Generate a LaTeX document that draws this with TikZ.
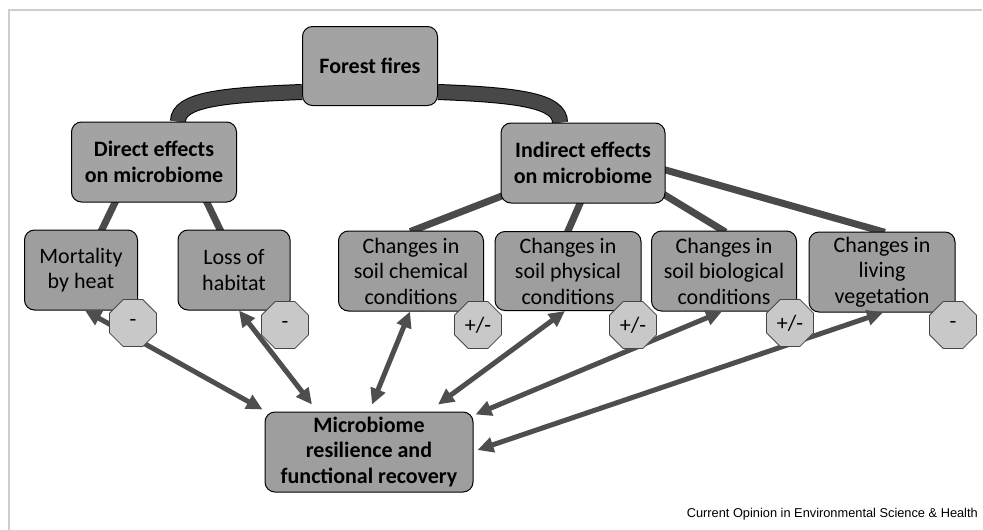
\documentclass[tikz,border=0pt]{standalone}
\usepackage{fontspec}
\setmainfont{Carlito}
\newfontfamily\creditfont{Liberation Sans}
\usetikzlibrary{arrows.meta, shapes.geometric, backgrounds}

\definecolor{boxgray}{RGB}{158,158,158}
\definecolor{topgray}{RGB}{163,163,163}
\definecolor{signgray}{RGB}{200,200,200}
\definecolor{signedge}{RGB}{70,70,70}
\definecolor{tiegray}{RGB}{74,74,74}
\definecolor{bandgray}{RGB}{72,72,72}
\definecolor{arrowgray}{RGB}{78,78,78}
\definecolor{framegray}{RGB}{205,205,205}

\begin{document}
\begin{tikzpicture}[
  x=1pt, y=-1pt,
  >={Triangle[length=16pt, width=15pt]},
  box/.style={
    draw,
    line width=1pt,
    rounded corners=10pt,
    fill=boxgray,
    align=center,
    inner sep=2pt,
    font=\fontsize{22}{25.5}\selectfont
  },
  head/.style={box, fill=topgray, font=\bfseries\fontsize{22}{25.5}\selectfont},
  sign/.style={
    draw=signedge,
    line width=0.8pt,
    fill=signgray,
    regular polygon,
    regular polygon sides=8,
    minimum size=51pt,
    inner sep=0pt,
    font=\fontsize{22}{22}\selectfont
  },
  tie/.style={line width=7pt, draw=tiegray, shorten <=-3pt, shorten >=-3pt},
  link/.style={<->, line width=5pt, draw=arrowgray}
]
\useasboundingbox (0,0) rectangle (983,530);

% --- Frame ---
\draw[framegray, line width=1.5pt] (9,530) -- (9,10) -- (982,10);

% --- Top levels ---
\node[head, minimum width=135pt, minimum height=79pt] (ff)  at (370, 66)  {Forest fires};
\node[head, minimum width=165pt, minimum height=80pt] (dir) at (154, 162) {Direct effects\\on microbiome};
\node[head, minimum width=164pt, minimum height=80pt] (ind) at (583, 163) {Indirect effects\\on microbiome};

% --- Effects ---
\node[box, minimum width=113pt, minimum height=80pt] (mort) at (81, 270)  {Mortality\\by heat};
\node[box, minimum width=112pt, minimum height=80pt] (loss) at (234, 270) {Loss of\\habitat};
\node[box, minimum width=145pt, minimum height=80pt] (chem) at (411, 271) {Changes in\\soil chemical\\conditions};
\node[box, minimum width=146pt, minimum height=79pt] (phys) at (568, 271) {Changes in\\soil physical\\conditions};
\node[box, minimum width=145pt, minimum height=80pt] (bio)  at (724, 271) {Changes in\\soil biological\\conditions};
\node[box, minimum width=146pt, minimum height=80pt] (veg)  at (882, 272) {Changes in\\living\\vegetation};

% --- Outcome ---
\node[head, fill=boxgray, minimum width=208pt, minimum height=80pt] (res) at (369, 452)
  {Microbiome\\resilience and\\functional recovery};

% --- Ties behind the boxes ---
\begin{scope}[on background layer]
  \draw[draw=black, line width=1pt, double=bandgray, double distance=14pt]
    ([yshift=-26pt]ff.west) .. controls +(-80,3) and +(0,-22) .. ([xshift=24pt]dir.north);
  \draw[draw=black, line width=1pt, double=bandgray, double distance=14pt]
    ([yshift=-26pt]ff.east) .. controls +(80,3) and +(0,-22) .. ([xshift=-23pt]ind.north);

  \draw[tie] ([xshift=-39pt]dir.south) -- ([xshift=21pt]mort.north);
  \draw[tie] ([xshift=53pt]dir.south)  -- ([xshift=-14pt]loss.north);

  \draw[tie] ([yshift=7pt]ind.south west) -- ([xshift=2pt]chem.north);
  \draw[tie] ([xshift=-3pt]ind.south)     -- (phys.north);
  \draw[tie] ([yshift=8pt]ind.south east) -- ([xshift=-1pt]bio.north);
  \draw[tie] ([yshift=-7pt]ind.east)      -- (veg.north);
\end{scope}

% --- Feedback arrows ---
\draw[link] ([xshift=4pt]mort.south)  -- ([xshift=-2pt,yshift=2pt]res.north west);
\draw[link] ([xshift=5pt]loss.south)  -- ([xshift=-57pt,yshift=7pt]res.north);
\draw[link] ([xshift=-1pt]chem.south) -- ([xshift=3pt,yshift=7pt]res.north);
\draw[link] ([xshift=-3pt]phys.south) -- ([xshift=69pt,yshift=7pt]res.north);
\draw[link] ([xshift=-2pt]bio.south)  -- ([xshift=2pt,yshift=-3pt]res.north east);
\draw[link] ([xshift=1pt]veg.south)   -- ([xshift=4pt,yshift=2pt]res.east);

% --- Signs ---
\node[sign] (smort) at (133, 323) {-};
\node[sign] (sloss) at (285, 325) {-};
\node[sign] (schem) at (478, 325) {+/-};
\node[sign] (sphys) at (633, 325) {+/-};
\node[sign] (sbio)  at (790, 323) {+/-};
\node[sign] (sveg)  at (953, 325) {-};

% --- Credit ---
\node[font=\creditfont\fontsize{12.8}{14}\selectfont, anchor=base east, inner sep=0pt] (credit)
  at (978, 517) {Current Opinion in Environmental Science \& Health};

\end{tikzpicture}
\end{document}
